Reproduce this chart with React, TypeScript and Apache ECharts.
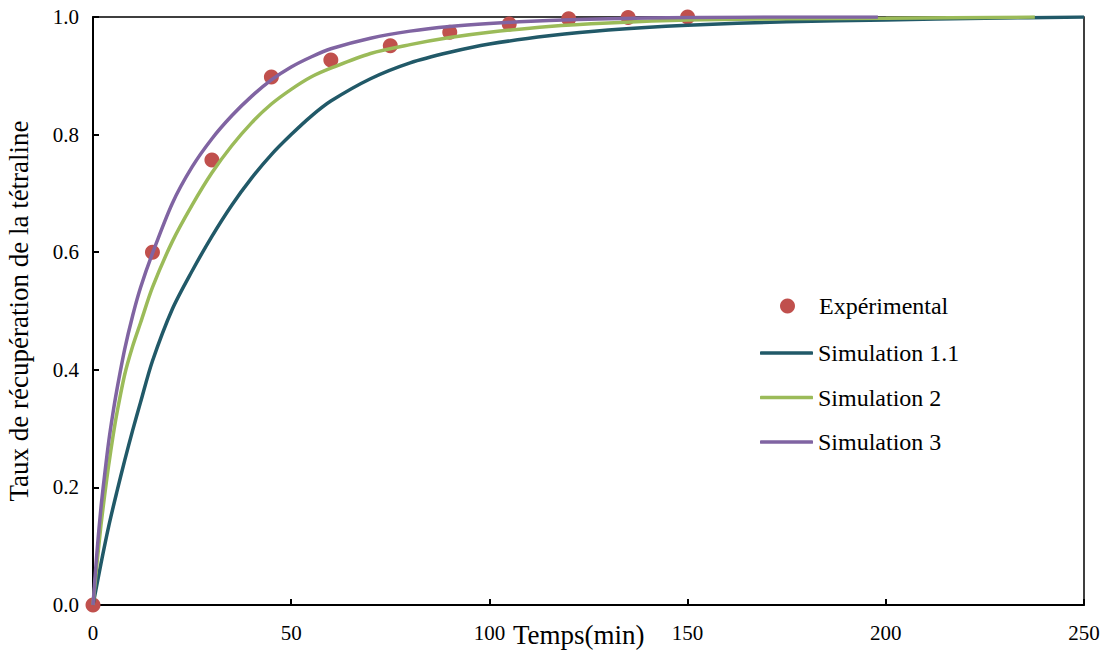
import React, { useEffect, useRef } from "react";
import * as echarts from "echarts";

// Experimental data (time in min, recovery ratio)
const expTimes = [0, 15, 30, 45, 60, 75, 90, 105, 120, 135, 150];
const expValues = [0, 0.6, 0.757, 0.898, 0.927, 0.951, 0.974, 0.988, 0.997, 0.999, 1.0];

// Simulation 1.1
const sim11Times = [0, 2, 4, 6, 8, 10, 12, 15, 20, 25, 30, 35, 40, 45, 50, 55, 60, 70, 80, 90, 100, 115, 130, 150, 175, 200, 225, 250];
const sim11Values = [0, 0.07, 0.135, 0.192, 0.246, 0.297, 0.345, 0.415, 0.503, 0.568, 0.627, 0.68, 0.726, 0.766, 0.8, 0.831, 0.857, 0.895, 0.922, 0.94, 0.954, 0.968, 0.978, 0.986, 0.992, 0.995, 0.998, 1.0];

// Simulation 2
const sim2Times = [0, 1, 2, 3, 4, 5, 6, 8, 10, 12, 15, 20, 25, 30, 35, 40, 45, 50, 55, 60, 70, 80, 90, 100, 115, 130, 150, 175, 200, 237.6];
const sim2Values = [0, 0.07, 0.135, 0.19, 0.24, 0.285, 0.325, 0.392, 0.44, 0.48, 0.54, 0.618, 0.68, 0.735, 0.781, 0.82, 0.852, 0.877, 0.898, 0.913, 0.938, 0.953, 0.965, 0.974, 0.984, 0.99, 0.995, 0.997, 0.998, 1.0];

// Simulation 3
const sim3Times = [0, 1, 2, 3, 4, 5, 6, 8, 10, 12, 15, 20, 25, 30, 35, 40, 45, 50, 55, 60, 70, 80, 90, 100, 115, 130, 150, 175, 198];
const sim3Values = [0, 0.09, 0.165, 0.225, 0.28, 0.325, 0.365, 0.435, 0.492, 0.54, 0.598, 0.683, 0.745, 0.793, 0.832, 0.865, 0.893, 0.915, 0.932, 0.946, 0.964, 0.976, 0.984, 0.989, 0.994, 0.997, 0.999, 1.0, 1.0];

const seriesNames = ["Expérimental", "Simulation 1.1", "Simulation 2", "Simulation 3"];
const xTickValues = [0, 50, 100, 150, 200, 250];
const yTickValues = [0, 0.2, 0.4, 0.6, 0.8, 1.0];
const xAxisTitle = "Temps(min)";
const yAxisTitle = "Taux de récupération de la tétraline";

const zip = (t: number[], v: number[]) => t.map((x, i) => [x, v[i]]);

const FONT = "'Liberation Serif', 'Times New Roman', serif";

export default function App() {
  const ref = useRef<HTMLDivElement>(null);
  useEffect(() => {
    if (!ref.current) return;
    const chart = echarts.init(ref.current, null, { renderer: "svg" });
    const lineSeries = (name: string, t: number[], v: number[], color: string) => ({
      name,
      type: "line",
      data: zip(t, v),
      smooth: 0.3,
      symbol: "none",
      showSymbol: false,
      lineStyle: { color, width: 3.5 },
      itemStyle: { color },
      z: 3,
    });
    const legendText = { color: "#000", fontSize: 24, fontFamily: FONT };
    chart.setOption({
      animation: false,
      backgroundColor: "#fff",
      textStyle: { fontFamily: FONT },
      grid: {
        left: 93,
        right: 26,
        top: 17,
        bottom: 55,
        containLabel: false,
        outerBoundsMode: "none",
        show: true,
        borderColor: "#000",
        borderWidth: 1.5,
        backgroundColor: "transparent",
      },
      xAxis: {
        type: "value",
        min: xTickValues[0],
        max: xTickValues[xTickValues.length - 1],
        interval: 50,
        axisLine: { show: true, onZero: false, lineStyle: { color: "#000", width: 2 } },
        axisTick: { show: true, inside: true, length: 6, lineStyle: { color: "#000", width: 2 } },
        axisLabel: { color: "#000", fontSize: 21, fontFamily: FONT, margin: 17 },
        splitLine: { show: false },
      },
      yAxis: {
        type: "value",
        min: yTickValues[0],
        max: yTickValues[yTickValues.length - 1],
        interval: 0.2,
        axisLine: { show: true, onZero: false, lineStyle: { color: "#000", width: 2 } },
        axisTick: { show: true, inside: true, length: 6, lineStyle: { color: "#000", width: 2 } },
        axisLabel: {
          color: "#000",
          fontSize: 21,
          fontFamily: FONT,
          margin: 14,
          formatter: (v: number) => v.toFixed(1),
        },
        splitLine: { show: false },
        name: yAxisTitle,
        nameLocation: "middle",
        nameGap: 61,
        nameTextStyle: { color: "#000", fontSize: 27, fontFamily: FONT },
      },
      legend: [
        {
          orient: "vertical",
          left: 775,
          top: 289,
          itemWidth: 53,
          itemHeight: 15,
          textStyle: legendText,
          itemStyle: { opacity: 1 },
          data: [{ name: seriesNames[0], icon: "circle" }],
        },
        {
          orient: "vertical",
          left: 755,
          top: 336,
          itemWidth: 53,
          itemHeight: 3.5,
          itemGap: 20.5,
          icon: "roundRect",
          textStyle: legendText,
          data: [seriesNames[1], seriesNames[2], seriesNames[3]],
        },
      ],
      graphic: [
        {
          type: "text",
          left: 513,
          top: 621,
          style: { text: xAxisTitle, fill: "#000", font: `27px ${FONT}` },
        },
      ],
      series: [
        {
          name: seriesNames[0],
          type: "scatter",
          data: zip(expTimes, expValues),
          symbol: "circle",
          symbolSize: 15,
          itemStyle: { color: "#c0504d", opacity: 1 },
          z: 2,
        },
        lineSeries(seriesNames[1], sim11Times, sim11Values, "#215968"),
        lineSeries(seriesNames[2], sim2Times, sim2Values, "#9bbb59"),
        lineSeries(seriesNames[3], sim3Times, sim3Values, "#8064a2"),
      ],
    });
    return () => chart.dispose();
  }, []);
  return <div ref={ref} style={{ width: 1110, height: 660, position: "absolute", left: 0, top: 0 }} />;
}
